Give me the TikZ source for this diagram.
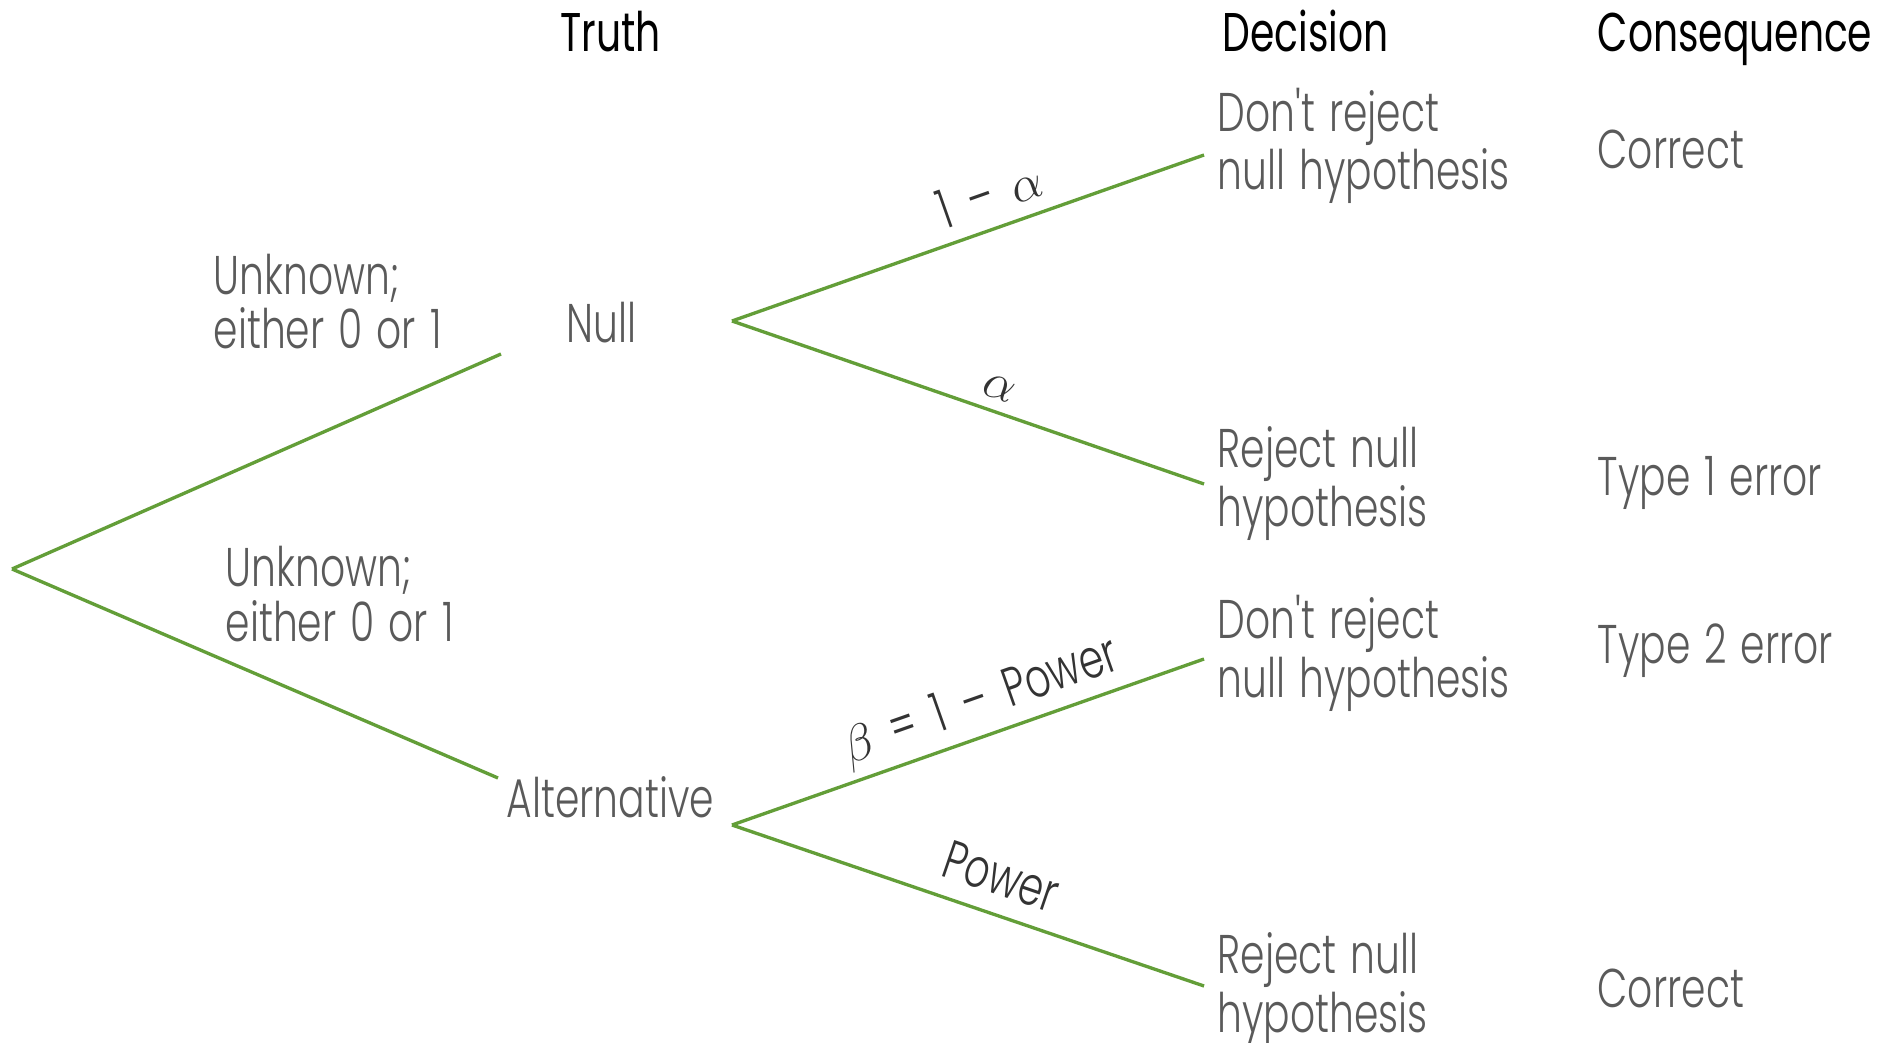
\documentclass[tikz,border=0pt]{standalone}
\usepackage{fontspec}
\newfontfamily\bodyfont{Poppins}[UprightFont={* Light},FakeStretch=0.72,Numbers=Monospaced,WordSpace=1.3]
\newfontfamily\headfont{Poppins}[FakeStretch=0.72]
\definecolor{branch}{RGB}{99,158,56}
\definecolor{bodytext}{RGB}{90,90,90}
\newcommand{\gap}{\hspace{0.35em}}
\begin{document}
\begin{tikzpicture}[x=0.01cm,y=-0.01cm,
  branchline/.style={draw=branch,line width=0.95pt},
  header/.style={anchor=base west,inner sep=0pt,text=black,font=\headfont\fontsize{15.5}{15.6}\selectfont},
  body/.style={anchor=base west,inner sep=0pt,align=left,text=bodytext,font=\bodyfont\fontsize{15.5}{15.6}\selectfont},
  edgelabel/.style={sloped,above,inner sep=2pt,text=black!80,font=\bodyfont\fontsize{15.5}{15.6}\selectfont}]
\useasboundingbox (0,0) rectangle (1897,1043);
% headers
\node[header] (truth) at (560,52) {Truth};
\node[header] (decision) at (1222,52) {Decision};
\node[header] (consequence) at (1597,52) {Consequence};
% branch points
\coordinate (root) at (12,569);
\coordinate (nullend) at (501,354);
\coordinate (altend) at (498,778);
\coordinate (nb) at (732,321);
\coordinate (ab) at (732,825);
\coordinate (d1) at (1204,155);
\coordinate (d2) at (1204,484);
\coordinate (d3) at (1204,659);
\coordinate (d4) at (1204,986);
% texts (multi-line nodes: anchor at the baseline of the last line)
\node[body] (unk1) at (213,349) {Unknown;\\either 0 or 1};
\node[body] (null) at (566,343) {Null};
\node[body] (unk2) at (225,641) {Unknown;\\either 0 or 1};
\node[body] (alt) at (506,817) {Alternative};
\node[body] (dec1) at (1217,190) {Don't reject\\null hypothesis};
\node[body] (dec2) at (1217,526) {Reject null\\hypothesis};
\node[body] (dec3) at (1217,697) {Don't reject\\null hypothesis};
\node[body] (dec4) at (1217,1032) {Reject null\\hypothesis};
\node[body] (con1) at (1597,169) {Correct};
\node[body] (con2) at (1597,495) {Type 1 error};
\node[body] (con3) at (1597,663) {Type 2 error};
\node[body] (con4) at (1597,1007) {Correct};
% connectors
\draw[branchline] (root) -- (nullend);
\draw[branchline] (root) -- (altend);
\draw[branchline] (nb) -- node[edgelabel,pos=0.57,inner sep=4pt] (l1) {1\gap–\gap\(\alpha\)} (d1);
\draw[branchline] (nb) -- node[edgelabel,pos=0.55,inner sep=3pt] (l2) {\(\alpha\)} (d2);
\draw[branchline] (ab) -- node[edgelabel,pos=0.55] (l3) {\(\beta\)\gap=\gap1\gap–\gap Power} (d3);
\draw[branchline] (ab) -- node[edgelabel,pos=0.545,inner sep=5pt] (l4) {Power} (d4);
\end{tikzpicture}
\end{document}
